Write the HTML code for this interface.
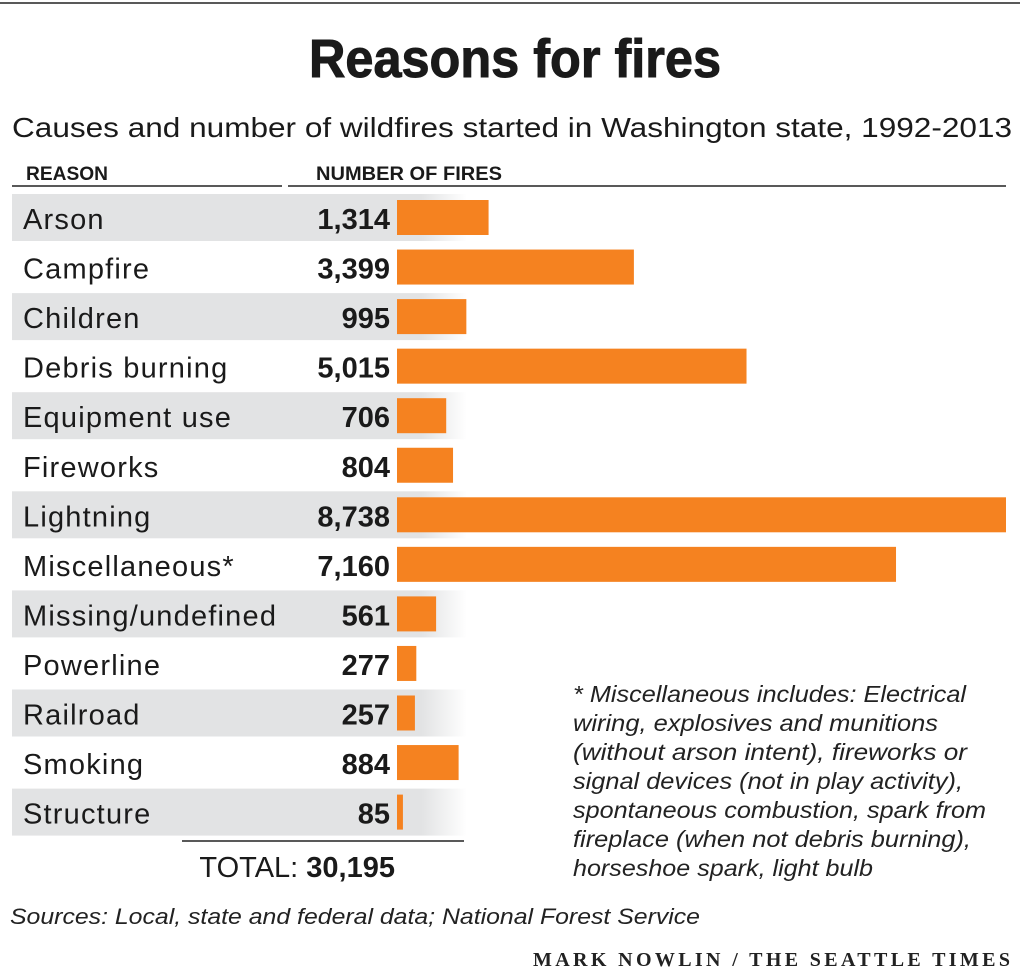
<!DOCTYPE html>
<html><head><meta charset="utf-8"><style>
html,body{margin:0;padding:0;background:#fff;}
svg{display:block;font-family:"Liberation Sans",sans-serif;}
</style></head><body>
<svg id="chart" width="1020" height="969" viewBox="0 0 1020 969" xmlns="http://www.w3.org/2000/svg">
<defs>
<linearGradient id="fade" x1="0" x2="1" y1="0" y2="0">
<stop offset="0" stop-color="#e2e3e4"/><stop offset="0.9" stop-color="#e2e3e4"/><stop offset="1" stop-color="#e2e3e4" stop-opacity="0"/>
</linearGradient>
</defs>
<line x1="0" y1="3" x2="1020" y2="3" stroke="#222" stroke-width="1.5"/>
<text x="515" y="77" text-anchor="middle" font-size="54" font-weight="bold" fill="#1a1a1a" stroke="#1a1a1a" stroke-width="1" textLength="412" lengthAdjust="spacingAndGlyphs">Reasons for fires</text>
<text x="12" y="137" font-size="28" fill="#1a1a1a" textLength="1000" lengthAdjust="spacingAndGlyphs">Causes and number of wildfires started in Washington state, 1992-2013</text>
<text x="26" y="180" font-size="19" font-weight="bold" fill="#1a1a1a" textLength="82" lengthAdjust="spacingAndGlyphs">REASON</text>
<line x1="12" y1="186" x2="282" y2="186" stroke="#222" stroke-width="1.5"/>
<text x="316" y="180" font-size="19" font-weight="bold" fill="#1a1a1a" textLength="186" lengthAdjust="spacingAndGlyphs">NUMBER OF FIRES</text>
<line x1="288" y1="186" x2="1006" y2="186" stroke="#222" stroke-width="1.5"/>
<g id="rows"></g>
<line x1="182" y1="841" x2="464" y2="841" stroke="#222" stroke-width="1.5"/>
<text x="395" y="877" text-anchor="end" font-size="29" fill="#1a1a1a">TOTAL: <tspan font-weight="bold">30,195</tspan></text>
<g font-size="23" font-style="italic" fill="#222">
<text x="573" y="702" textLength="393" lengthAdjust="spacingAndGlyphs">* Miscellaneous includes: Electrical</text>
<text x="573" y="731" textLength="365" lengthAdjust="spacingAndGlyphs">wiring, explosives and munitions</text>
<text x="573" y="760" textLength="394" lengthAdjust="spacingAndGlyphs">(without arson intent), fireworks or</text>
<text x="573" y="789" textLength="390" lengthAdjust="spacingAndGlyphs">signal devices (not in play activity),</text>
<text x="573" y="818" textLength="413" lengthAdjust="spacingAndGlyphs">spontaneous combustion, spark from</text>
<text x="573" y="847" textLength="398" lengthAdjust="spacingAndGlyphs">fireplace (when not debris burning),</text>
<text x="573" y="876" textLength="300" lengthAdjust="spacingAndGlyphs">horseshoe spark, light bulb</text>
</g>
<text x="10" y="924" font-size="22" font-style="italic" fill="#222" textLength="690" lengthAdjust="spacingAndGlyphs">Sources: Local, state and federal data; National Forest Service</text>
<text x="533" y="966" font-family="Liberation Serif, serif" font-size="20" font-weight="bold" fill="#222" textLength="477" lengthAdjust="spacing">MARK NOWLIN / THE SEATTLE TIMES</text>
</svg>
<script>
const categories = ["Arson","Campfire","Children","Debris burning","Equipment use","Fireworks","Lightning","Miscellaneous*","Missing/undefined","Powerline","Railroad","Smoking","Structure"];
const fireCounts = [1314,3399,995,5015,706,804,8738,7160,561,277,257,884,85];
const valueLabels = ["1,314","3,399","995","5,015","706","804","8,738","7,160","561","277","257","884","85"];

const NS = "http://www.w3.org/2000/svg";
const g = document.getElementById("rows");
const x0 = 397, xMaxPx = 1006, maxVal = 8738;
function xScale(v){ return x0 + v / maxVal * (xMaxPx - x0); }
function yCenter(i){ return 218 + i * 49.55; }
function mk(tag, attrs){ const e = document.createElementNS(NS, tag); for (const k in attrs) e.setAttribute(k, attrs[k]); return e; }
categories.forEach((c, i) => {
  const cy = yCenter(i);
  if (i % 2 === 0) {
    const bg = mk("rect", {x: 12, y: cy - 24, width: 455, height: 47, fill: "url(#fade)"});
    
    
    g.appendChild(bg);
  }
  const lab = mk("text", {x: 23, y: cy + 11, "font-size": 29, "letter-spacing": 1.2, fill: "#1a1a1a"});
  
  
  lab.textContent = c;
  g.appendChild(lab);
  const num = mk("text", {x: 390, y: cy + 11, "text-anchor": "end", "font-size": 29, "font-weight": "bold", fill: "#1a1a1a"});
  
  
  num.textContent = valueLabels[i];
  g.appendChild(num);
  const bar = mk("rect", {x: x0, y: cy - 18, width: Math.max(1, xScale(fireCounts[i]) - x0), height: 35, fill: "#f58220"});
  
  
  g.appendChild(bar);
});
</script>
</body></html>
